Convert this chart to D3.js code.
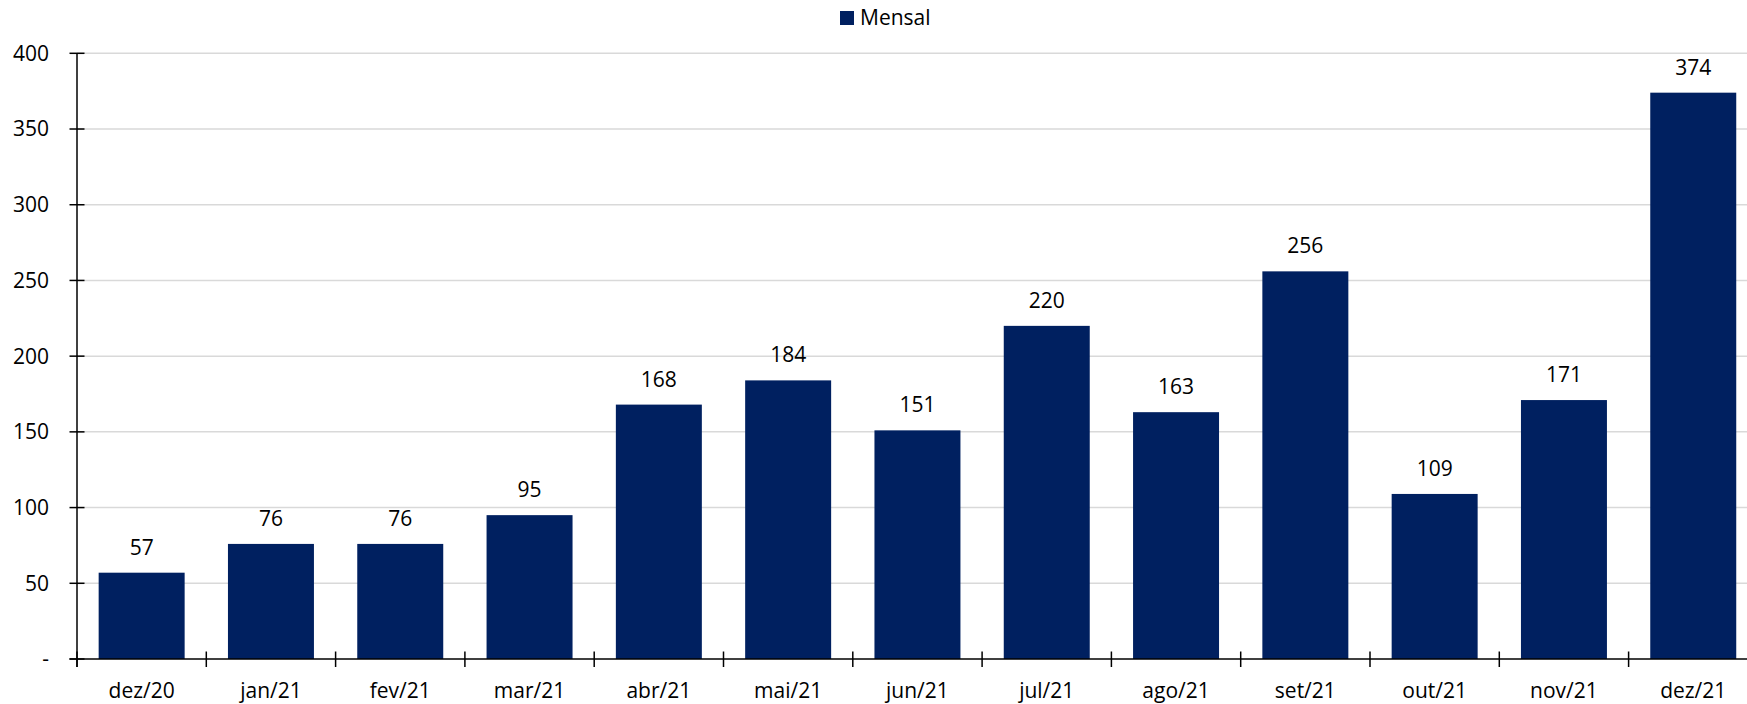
<!DOCTYPE html>
<html>
<head>
<meta charset="utf-8">
<script src="https://cdn.jsdelivr.net/npm/d3@7"></script>
<style>
  html, body { margin: 0; padding: 0; background: #fff; }
  svg { display: block; font-family: "Open Sans", sans-serif; }
  .grid line { stroke: #d9d9d9; stroke-width: 1.5; }
  .axis-line { stroke: #000; stroke-width: 1.5; }
  .lbl { font-size: 21px; fill: #000; }
</style>
</head>
<body>
<svg id="chart" width="1747" height="704"></svg>
<script>
// monthly values
const months = ['dez/20', 'jan/21', 'fev/21', 'mar/21', 'abr/21', 'mai/21', 'jun/21',
                'jul/21', 'ago/21', 'set/21', 'out/21', 'nov/21', 'dez/21'];
const mensal = [57, 76, 76, 95, 168, 184, 151, 220, 163, 256, 109, 171, 374];
const yTicks = [0, 50, 100, 150, 200, 250, 300, 350, 400];
const seriesName = 'Mensal';

const W = 1747, H = 704;
const x0 = 77, y0 = 659, yTop = 53.3;
const step = 129.3;
const barFrac = 0.665;
const color = '#002060';

const svg = d3.select('#chart');

// categories span past the right edge, like the original (clipped)
const x = d3.scaleBand()
  .domain(months)
  .range([x0, x0 + step * months.length])
  .padding(0);

const y = d3.scaleLinear().domain([0, 400]).range([y0, yTop]);

// gridlines
svg.append('g').attr('class', 'grid')
  .selectAll('line')
  .data(yTicks.filter(d => d > 0))
  .join('line')
    .attr('x1', x0).attr('x2', W)
    .attr('y1', d => y(d)).attr('y2', d => y(d));

// bars
const bw = x.bandwidth() * barFrac;
svg.append('g')
  .selectAll('rect')
  .data(months.map((m, i) => ({ m, v: mensal[i] })))
  .join('rect')
    .attr('x', d => x(d.m) + (x.bandwidth() - bw) / 2)
    .attr('y', d => y(d.v))
    .attr('width', bw)
    .attr('height', d => y0 - y(d.v))
    .attr('fill', color);

// value labels
svg.append('g')
  .selectAll('text')
  .data(months.map((m, i) => ({ m, v: mensal[i] })))
  .join('text')
    .attr('class', 'lbl')
    .attr('x', d => x(d.m) + x.bandwidth() / 2)
    .attr('y', d => y(d.v) - 18)
    .attr('text-anchor', 'middle')
    .text(d => d.v);

// y axis
const yAxis = svg.append('g');
yAxis.append('line').attr('class', 'axis-line')
  .attr('x1', x0).attr('x2', x0).attr('y1', yTop).attr('y2', y0 + 8);
yAxis.selectAll('line.tick')
  .data(yTicks)
  .join('line')
    .attr('class', 'axis-line tick')
    .attr('x1', x0 - 7.5).attr('x2', x0 + 7.5)
    .attr('y1', d => y(d)).attr('y2', d => y(d));
yAxis.selectAll('text')
  .data(yTicks)
  .join('text')
    .attr('class', 'lbl')
    .attr('x', 49)
    .attr('y', d => y(d))
    .attr('dy', '0.35em')
    .attr('text-anchor', 'end')
    .text(d => d === 0 ? '-' : d);

// x axis
const xAxis = svg.append('g');
xAxis.append('line').attr('class', 'axis-line')
  .attr('x1', x0 - 7.5).attr('x2', W).attr('y1', y0).attr('y2', y0);
xAxis.selectAll('line.tick')
  .data(months)
  .join('line')
    .attr('class', 'axis-line tick')
    .attr('x1', d => x(d)).attr('x2', d => x(d))
    .attr('y1', y0 - 7.5).attr('y2', y0 + 8);
xAxis.selectAll('text')
  .data(months)
  .join('text')
    .attr('class', 'lbl')
    .attr('x', d => x(d) + x.bandwidth() / 2)
    .attr('y', 698)
    .attr('text-anchor', 'middle')
    .text(d => d);

// legend
const lg = svg.append('g');
lg.append('rect').attr('x', 840).attr('y', 11).attr('width', 14).attr('height', 14).attr('fill', color);
lg.append('text').attr('class', 'lbl').attr('x', 860).attr('y', 25).text(seriesName);
</script>
</body>
</html>
